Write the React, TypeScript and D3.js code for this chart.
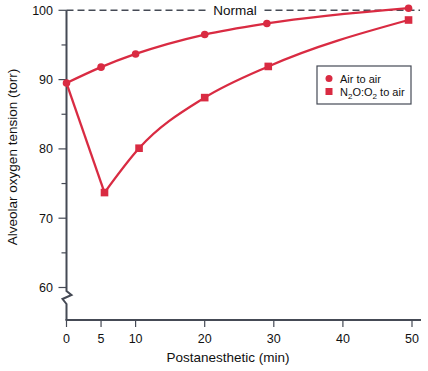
import React from 'react';
import * as d3 from 'd3';

const AIR_T = [0, 5, 10, 20, 29, 49.5];
const AIR_V = [89.5, 91.8, 93.7, 96.5, 98.1, 100.3];
const N2O_T = [0, 5.5, 10.5, 20, 29.2, 49.5];
const N2O_V = [89.5, 73.7, 80.1, 87.4, 91.9, 98.6];

const Y_MAJOR = [60, 70, 80, 90, 100];
const Y_MINOR = [65, 75, 85, 95];
const X_TICKS = [0, 5, 10, 20, 30, 40, 50];

const RED = '#d92b42';
const AXIS = '#454a55';
const INK = '#111';
const FONT = '"Liberation Sans", Arial, sans-serif';

export default function App() {
  const width = 428;
  const height = 371;

  const x = d3.scaleLinear().domain([0, 50]).range([66.5, 412]);
  const y = d3.scaleLinear().domain([60, 100]).range([287.5, 10.3]);
  const axisY = 320;
  const x0 = x(0);

  const air = AIR_T.map((t, i) => [t, AIR_V[i]] as [number, number]);
  const n2o = N2O_T.map((t, i) => [t, N2O_V[i]] as [number, number]);

  const curve = d3.line<[number, number]>()
    .x(d => x(d[0])).y(d => y(d[1]))
    .curve(d3.curveMonotoneX);
  const straight = d3.line<[number, number]>()
    .x(d => x(d[0])).y(d => y(d[1]));

  const breakTop = 291;
  const breakBot = 304;

  return (
    <svg width={width} height={height}
      style={{ position: 'absolute', left: 0, top: 0, background: '#fff' }}
      fontFamily={FONT}>
      {/* normal line */}
      <line x1={x0} x2={420} y1={y(100)} y2={y(100)}
        stroke={AXIS} strokeWidth={1.5} strokeDasharray="7,4" />
      <rect x={208} y={y(100) - 8} width={54} height={14} fill="#fff" />
      <text x={235} y={y(100) + 4.5} textAnchor="middle" fontSize={13.5} fill={INK}>Normal</text>

      {/* y axis with break */}
      <path d={`M${x0},${y(100)}V${breakTop}L${x0 + 5},${breakTop + 4}L${x0 - 4},${breakTop + 8}L${x0},${breakBot}V${axisY}`}
        fill="none" stroke={AXIS} strokeWidth={2} />
      {Y_MAJOR.map(v => (
        <g key={v}>
          <line x1={x0 - 8} x2={x0} y1={y(v)} y2={y(v)} stroke={AXIS} strokeWidth={1.2} />
          <text x={53} y={y(v) + 4.5} textAnchor="end" fontSize={12.5} fill={INK}>{v}</text>
        </g>
      ))}
      {Y_MINOR.map(v => (
        <line key={v} x1={x0 - 5} x2={x0} y1={y(v)} y2={y(v)} stroke={AXIS} strokeWidth={1.2} />
      ))}

      {/* x axis */}
      <line x1={x0 - 1} x2={421} y1={axisY} y2={axisY} stroke={AXIS} strokeWidth={2} />
      {X_TICKS.map(t => (
        <g key={t}>
          <line x1={x(t)} x2={x(t)} y1={axisY} y2={axisY + 7} stroke={AXIS} strokeWidth={1.2} />
          <text x={x(t)} y={343} textAnchor="middle" fontSize={12.5} fill={INK}>{t}</text>
        </g>
      ))}
      <text x={228} y={362} textAnchor="middle" fontSize={13.5} fill={INK}>Postanesthetic (min)</text>
      <text transform={`translate(17,157) rotate(-90)`} textAnchor="middle" fontSize={13.5} fill={INK}>
        Alveolar oxygen tension (torr)
      </text>

      {/* series */}
      <path d={curve(air) || ''} fill="none" stroke={RED} strokeWidth={2.3} />
      <path d={straight(n2o.slice(0, 2)) || ''} fill="none" stroke={RED} strokeWidth={2.3} />
      <path d={curve(n2o.slice(1)) || ''} fill="none" stroke={RED} strokeWidth={2.3} />
      {air.map((d, i) => (
        <circle key={i} cx={x(d[0])} cy={y(d[1])} r={3.8} fill={RED} />
      ))}
      {n2o.slice(1).map((d, i) => (
        <rect key={i} x={x(d[0]) - 3.8} y={y(d[1]) - 3.8} width={7.6} height={7.6} fill={RED} />
      ))}

      {/* legend */}
      <rect x={317} y={66} width={94} height={38} fill="#fff" stroke={AXIS} strokeWidth={1.2} />
      <circle cx={329} cy={78.5} r={3.5} fill={RED} />
      <text x={340} y={82.5} fontSize={11} fill={INK}>Air to air</text>
      <rect x={325.5} y={88} width={7} height={7} fill={RED} />
      <text x={340} y={96} fontSize={11} fill={INK}>
        N<tspan fontSize={8} dy={2.5}>2</tspan><tspan dy={-2.5}>O:O</tspan><tspan fontSize={8} dy={2.5}>2</tspan><tspan dy={-2.5}> to air</tspan>
      </text>
    </svg>
  );
}
